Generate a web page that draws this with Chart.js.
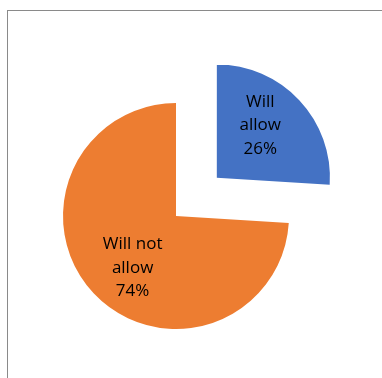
<!DOCTYPE html>
<html>
<head>
<meta charset="utf-8">
<script src="https://cdn.jsdelivr.net/npm/chart.js@4.4.1/dist/chart.umd.min.js"></script>
<style>
  html, body { margin: 0; padding: 0; background: #fff; }
  #wrap { position: relative; width: 382px; height: 378px; overflow: hidden; }
  #frame {
    position: absolute; left: 7px; top: 10px; width: 400px; height: 400px;
    border-left: 1px solid #8a8a8a; border-top: 1px solid #8a8a8a;
  }
  canvas { position: absolute; left: 0; top: 0; }
</style>
</head>
<body>
<div id="wrap">
  <div id="frame"></div>
  <canvas id="pie" width="382" height="378"></canvas>
</div>
<script>
const categories = [["Will", "allow"], ["Will not", "allow"]];
const shares = [26, 74];
const colors = ["#4472C4", "#ED7D31"];

// draws the category + percent inside each slice, like Excel's data labels
const sliceLabels = {
  id: "sliceLabels",
  afterDatasetsDraw(chart) {
    const ctx = chart.ctx;
    const meta = chart.getDatasetMeta(0);
    const total = shares.reduce((a, b) => a + b, 0);
    ctx.save();
    ctx.font = "17px 'Open Sans', 'Noto Sans', sans-serif";
    ctx.fillStyle = "#000";
    ctx.textAlign = "center";
    ctx.textBaseline = "middle";
    meta.data.forEach((arc, i) => {
      const p = arc.getProps(["x", "y", "startAngle", "endAngle", "outerRadius"], true);
      const mid = (p.startAngle + p.endAngle) / 2;
      const shift = (arc.options.offset || 0) / 4;
      // Excel nudges the labels a bit counter-clockwise from the slice middle
      const a = mid - (7 * Math.PI) / 180;
      const r = p.outerRadius * 0.6;
      const cx = p.x + Math.cos(mid) * shift + Math.cos(a) * r;
      const cy = p.y + Math.sin(mid) * shift + Math.sin(a) * r;
      const lines = categories[i].concat([Math.round(shares[i] / total * 100) + "%"]);
      const lh = 23.5;
      lines.forEach((t, k) => {
        ctx.fillText(t, cx, cy + (k - (lines.length - 1) / 2) * lh);
      });
    });
    ctx.restore();
  },
};

new Chart(document.getElementById("pie"), {
  type: "pie",
  data: {
    labels: categories.map((c) => c.join(" ")),
    datasets: [
      {
        data: shares,
        backgroundColor: colors,
        borderWidth: 0,
        offset: [224, 0],
      },
    ],
  },
  options: {
    responsive: false,
    animation: false,
    events: [],
    radius: 113,
    layout: { padding: { left: 0, right: 30, top: 54, bottom: 0 } },
    plugins: {
      legend: { display: false },
      tooltip: { enabled: false },
    },
  },
  plugins: [sliceLabels],
});
</script>
</body>
</html>
